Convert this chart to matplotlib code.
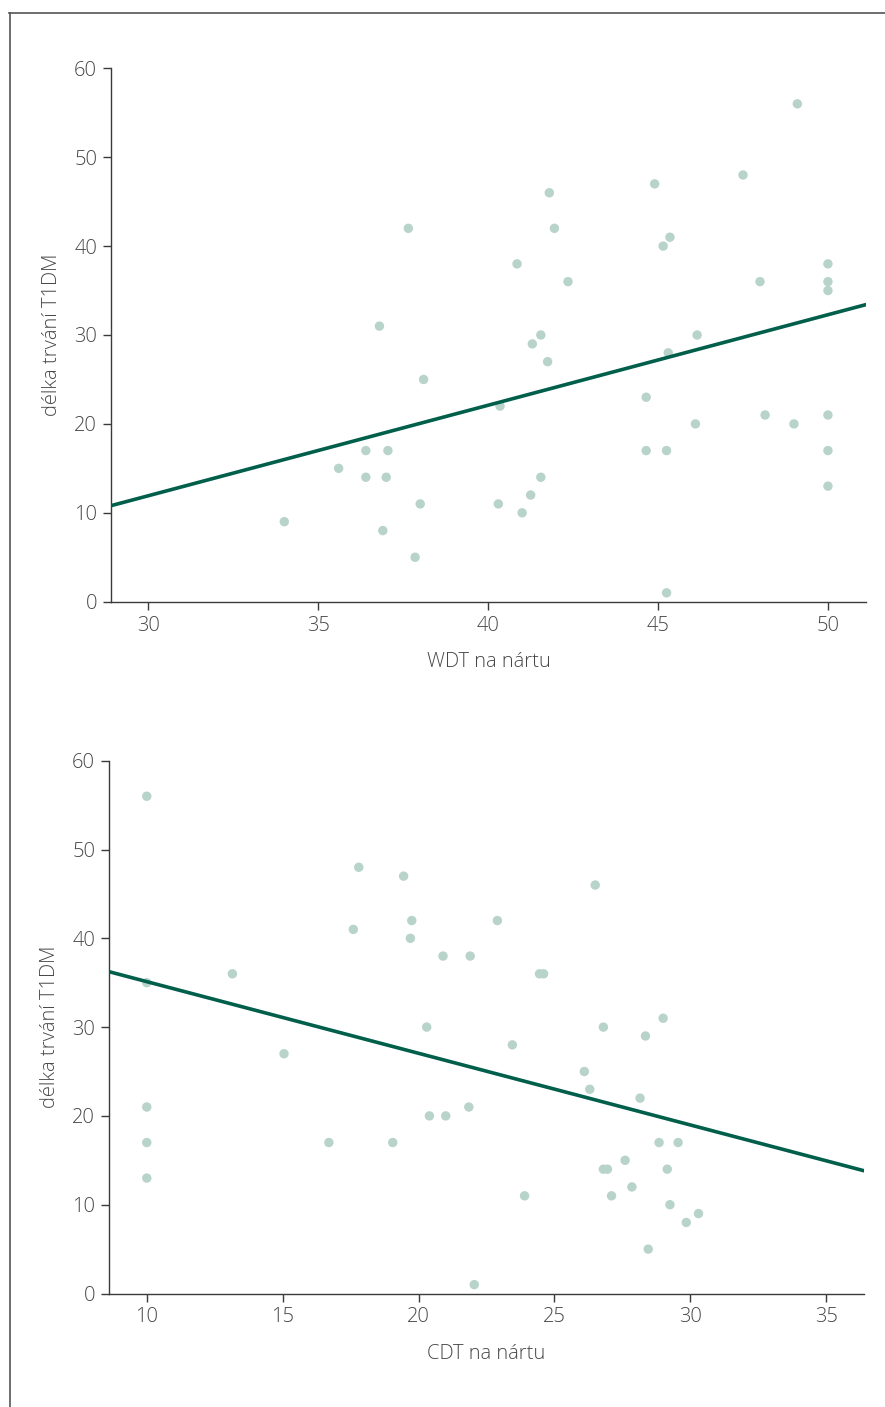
import matplotlib
matplotlib.use("Agg")
import matplotlib.pyplot as plt
from matplotlib.lines import Line2D
import numpy as np

plt.rcParams['font.family'] = ['Open Sans', 'DejaVu Sans']

# duration of T1DM (years), same patients in both panels
wdt = [34.0, 35.6, 36.4, 36.4, 36.8, 36.9, 37.05, 37.0, 37.65, 37.85, 38.0, 38.1,
       40.3, 40.35, 40.85, 41.0, 41.25, 41.3, 41.55, 41.55, 41.75, 41.8, 41.95, 42.35,
       44.65, 44.65, 44.9, 45.15, 45.25, 45.25, 45.3, 45.35, 46.1, 46.15, 47.5, 48.0,
       48.15, 49.0, 49.1, 50, 50, 50, 50, 50, 50]
dur_wdt = [9, 15, 17, 14, 31, 8, 17, 14, 42, 5, 11, 25,
           11, 22, 38, 10, 12, 29, 30, 14, 27, 46, 42, 36,
           23, 17, 47, 40, 17, 1, 28, 41, 20, 30, 48, 36,
           21, 20, 56, 38, 36, 35, 21, 17, 13]

cdt = [10, 17.8, 19.45, 19.75, 17.6, 19.7, 20.9, 21.9, 22.9, 13.15, 10, 20.3,
       15.05, 10, 20.4, 21.0, 21.85, 10, 16.7, 19.05, 26.5, 24.45, 24.6, 29.0,
       26.8, 28.35, 23.45, 26.1, 26.3, 28.15, 28.85, 29.55, 27.6, 26.8, 26.95, 29.15,
       27.85, 23.9, 27.1, 29.25, 30.3, 29.85, 28.45, 22.05, 10]
dur_cdt = [56, 48, 47, 42, 41, 40, 38, 38, 42, 36, 35, 30,
           27, 21, 20, 20, 21, 17, 17, 17, 46, 36, 36, 31,
           30, 29, 28, 25, 23, 22, 17, 17, 15, 14, 14, 14,
           12, 11, 11, 10, 9, 8, 5, 1, 13]

# regression lines (slope, intercept)
fit_wdt = (1.018, -18.62)
fit_cdt = (-0.807, 43.19)

xticks_wdt = [30, 35, 40, 45, 50]
xticks_cdt = [10, 15, 20, 25, 30, 35]
yticks = [0, 10, 20, 30, 40, 50, 60]

dot_color = '#b8d3ca'
line_color = '#005f4b'
axis_color = '#3a3a3a'
text_color = '#474747'

fig = plt.figure(figsize=(8.85, 14.07), dpi=100)

# frame lines of the page
fig.add_artist(Line2D([9.7 / 885, 9.7 / 885], [0, 1 - 12.7 / 1407],
                      color='#555555', lw=1.2, transform=fig.transFigure))
fig.add_artist(Line2D([9.0 / 885, 1], [1 - 12.7 / 1407, 1 - 12.7 / 1407],
                      color='#555555', lw=1.2, transform=fig.transFigure))


def panel(rect, x, y, fit, xlim, xticks, xlabel):
    ax = fig.add_axes(rect)
    ax.scatter(x, y, s=46, color=dot_color, edgecolors='none', zorder=2)
    xs = np.array(xlim)
    ax.plot(xs, fit[0] * xs + fit[1], color=line_color, lw=2.6,
            solid_capstyle='round', zorder=3)
    ax.set_xlim(*xlim)
    ax.set_ylim(0, 60)
    ax.set_xticks(xticks)
    ax.set_yticks(yticks)
    for s in ['top', 'right']:
        ax.spines[s].set_visible(False)
    for s in ['left', 'bottom']:
        ax.spines[s].set_color(axis_color)
        ax.spines[s].set_linewidth(1.0)
    ax.tick_params(direction='out', length=6, width=1.0, color=axis_color,
                   labelsize=14.5, labelcolor=text_color, pad=4)
    for t in ax.get_xticklabels() + ax.get_yticklabels():
        t.set_fontweight('light')
    ax.set_xlabel(xlabel, fontsize=14.5, color=text_color, labelpad=12,
                  fontweight='light')
    ax.set_ylabel('délka trvání T1DM', fontsize=14.5, color=text_color,
                  labelpad=9, fontweight='light')
    return ax


panel([111 / 885, 1 - 601.7 / 1407, 755 / 885, 533.4 / 1407],
      wdt, dur_wdt, fit_wdt, (28.9, 51.12), xticks_wdt, 'WDT na nártu')
panel([109 / 885, 1 - 1293.5 / 1407, 755 / 885, 532.8 / 1407],
      cdt, dur_cdt, fit_cdt, (8.61, 36.39), xticks_cdt, 'CDT na nártu')

fig.savefig('out.png', dpi=100)
